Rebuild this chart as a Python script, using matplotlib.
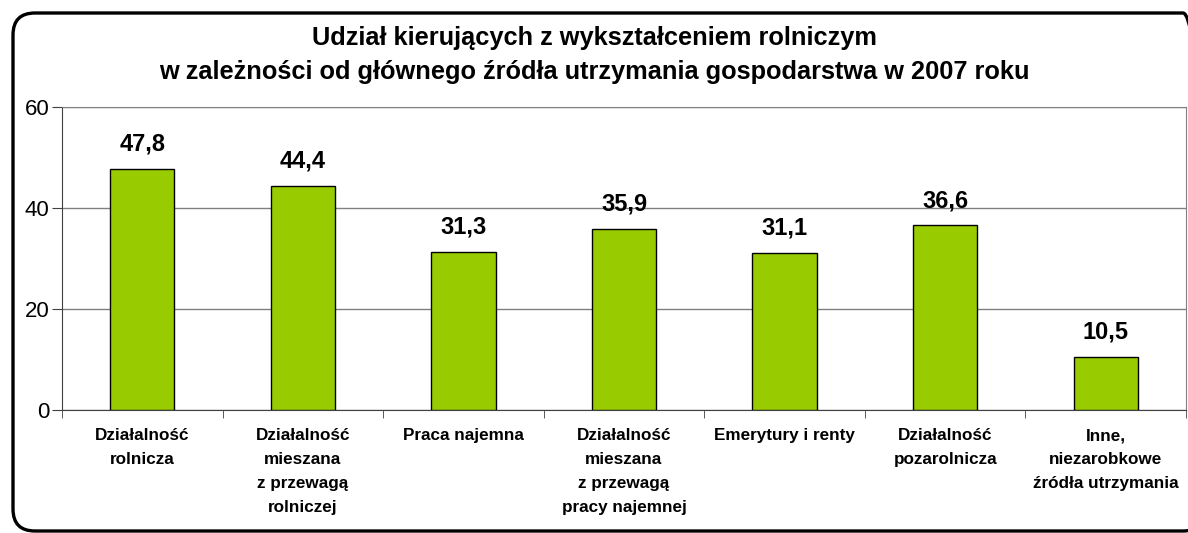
import matplotlib.pyplot as plt
import numpy as np
from matplotlib.patches import FancyBboxPatch
from matplotlib.transforms import IdentityTransform

plt.rcParams["font.family"] = ["Liberation Sans", "DejaVu Sans"]

# Data
categories = [
    "Działalność\nrolnicza",
    "Działalność\nmieszana\nz przewagą\nrolniczej",
    "Praca najemna",
    "Działalność\nmieszana\nz przewagą\npracy najemnej",
    "Emerytury i renty",
    "Działalność\npozarolnicza",
    "Inne,\nniezarobkowe\nźródła utrzymania",
]
values = [47.8, 44.4, 31.3, 35.9, 31.1, 36.6, 10.5]
value_labels = ["47,8", "44,4", "31,3", "35,9", "31,1", "36,6", "10,5"]
y_ticks = [0, 20, 40, 60]

W, H = 1188, 533
fig = plt.figure(figsize=(W / 100, H / 100), dpi=100)

# rounded frame around the whole chart (pixel coords)
frame = FancyBboxPatch(
    (13, 2), 1205 - 13, (H - 13) - 2,
    boxstyle="round,pad=0,rounding_size=22",
    transform=IdentityTransform(), facecolor="none", edgecolor="black",
    linewidth=2.4, zorder=0,
)
fig.patches.append(frame)

ax = fig.add_axes([62 / W, 1 - 410 / H, (1186 - 62) / W, (410 - 107) / H])

x = np.arange(len(categories))
ax.bar(x, values, width=0.4, color="#99CC00", edgecolor="black", linewidth=1.0, zorder=3)

for xi, v, lab in zip(x, values, value_labels):
    ax.text(xi, v + 2.6, lab, ha="center", va="bottom", fontsize=17, fontweight="bold")

ax.set_xlim(-0.5, len(categories) - 0.5)
ax.set_ylim(0, 60)
ax.set_yticks(y_ticks)
ax.set_yticklabels([str(t) for t in y_ticks], fontsize=16)
ax.grid(axis="y", color="#808080", linewidth=1.0, zorder=0)

ax.set_xticks(x)
ax.set_xticklabels(categories, fontsize=12.3, fontweight="bold", linespacing=1.74, va="top")
ax.set_xticks(np.arange(len(categories) + 1) - 0.5, minor=True)
ax.tick_params(axis="x", which="major", length=0, pad=13)
ax.tick_params(axis="x", which="minor", length=6, color="#404040")
ax.tick_params(axis="y", length=7, color="#404040", pad=2)

for side in ["top", "right"]:
    ax.spines[side].set_color("#808080")
for side in ["left", "bottom"]:
    ax.spines[side].set_color("#404040")

fig.text(0.5, 1 - 38 / H, "Udział kierujących z wykształceniem rolniczym",
         ha="center", va="center", fontsize=18.3, fontweight="bold")
fig.text(0.5, 1 - 72 / H, "w zależności od głównego źródła utrzymania gospodarstwa w 2007 roku",
         ha="center", va="center", fontsize=18.3, fontweight="bold")

fig.savefig("out.png", dpi=100)
